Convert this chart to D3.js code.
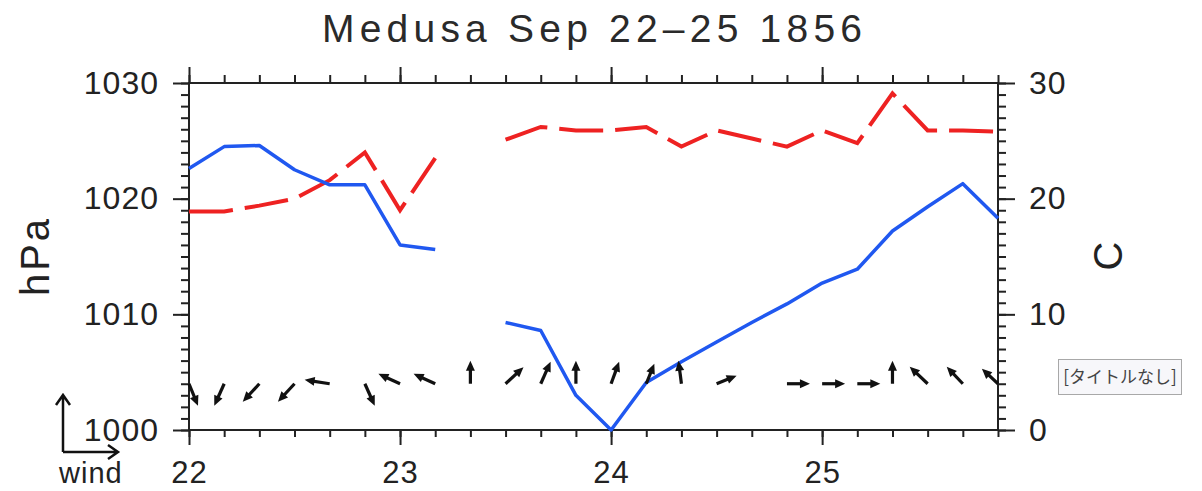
<!DOCTYPE html>
<html>
<head>
<meta charset="utf-8">
<script src="https://cdn.jsdelivr.net/npm/d3@7"></script>
<style>
  body { margin: 0; background: #fff; }
  svg { display: block; font-family: "Liberation Sans", Arial, sans-serif; }
</style>
</head>
<body>
<svg id="chart" width="1202" height="491"></svg>
<script>
// observation times: hours after Sep 22 00h, every 4 hours
const obsHour = [0, 4, 8, 12, 16, 20, 24, 28, 32, 36, 40, 44, 48, 52, 56, 60, 64, 68, 72, 76, 80, 84, 88, 92];
const dayTicks = [22, 23, 24, 25];
const hPaTicks = [1000, 1010, 1020, 1030];
const tempTicks = [0, 10, 20, 30];

// pressure (hPa) - blue solid, left axis
const pressure = [1022.6, 1024.5, 1024.6, 1022.5, 1021.2, 1021.2, 1016.0, 1015.6, null,
  1009.3, 1008.6, 1003.0, 1000.0, 1004.1, 1005.9, 1007.6, 1009.3, 1010.9, 1012.7,
  1013.9, 1017.2, 1019.3, 1021.3, 1018.3];

// air temperature (C) - red dashed, right axis
const temperature = [18.9, 18.9, 19.4, 20.0, 21.6, 24.0, 19.0, 23.5, null,
  25.1, 26.2, 25.9, 25.9, 26.2, 24.5, 25.9, 25.2, 24.5, 25.9,
  24.8, 29.1, 25.9, 25.9, 25.8];

// wind components (u east, v north), null = no report
const windU = [3.9, -4.3, -7.2, -7.2, -10.9, 4.3, -9.4, -9.4, 0, 7.8, 4.3, 0,
  3.5, 3.5, -1.3, 8.7, null, 10, 10, 10, 0, -7.8, -7.0, -7.0];
const windV = [-9.6, -9.6, -7.8, -7.8, 1.7, -9.6, 4.3, 4.3, 10, 7.2, 9.6, 10,
  9.6, 8.7, 10, 3.5, null, 0, 0, 0, 10, 7.4, 7.4, 6.5];

const svg = d3.select("#chart");

const plotLeft = 189, plotRight = 998, plotTop = 83, plotBottom = 430;

const x = d3.scaleLinear().domain([22, 22 + 92 / 24]).range([plotLeft, plotRight]);
const yP = d3.scaleLinear().domain([1000, 1030]).range([plotBottom, plotTop]);
const yT = d3.scaleLinear().domain([0, 30]).range([plotBottom, plotTop]);

const tx = h => x(22 + h / 24);

// title
svg.append("text")
  .attr("x", 592).attr("y", 42)
  .attr("text-anchor", "middle")
  .attr("font-size", 39)
  .attr("textLength", 540)
  .attr("lengthAdjust", "spacing")
  .attr("fill", "#2a2a2a")
  .text("Medusa Sep 22\u201325 1856");

// axes
function styleAxis(g) {
  g.select(".domain").remove();
  g.selectAll("line").attr("stroke", "#222").attr("stroke-width", 2);
  g.selectAll("text")
    .attr("font-size", 32)
    .attr("font-family", "Liberation Sans, Arial, sans-serif")
    .attr("letter-spacing", 1)
    .attr("fill", "#222");
}

const minorX = obsHour.map(h => 22 + h / 24);
const minorY = d3.range(1000, 1031);

svg.append("g").attr("transform", `translate(0,${plotBottom})`)
  .call(d3.axisBottom(x).tickValues(minorX).tickSize(7).tickFormat(""))
  .call(styleAxis);
svg.append("g").attr("transform", `translate(0,${plotBottom})`)
  .call(d3.axisBottom(x).tickValues(dayTicks).tickSize(15).tickPadding(16).tickFormat(d3.format("d")))
  .call(styleAxis)
  .call(g => g.selectAll("text").attr("font-size", 31));
svg.append("g").attr("transform", `translate(0,${plotTop})`)
  .call(d3.axisTop(x).tickValues(minorX).tickSize(8).tickFormat(""))
  .call(styleAxis);
svg.append("g").attr("transform", `translate(0,${plotTop})`)
  .call(d3.axisTop(x).tickValues(dayTicks).tickSize(16).tickFormat(""))
  .call(styleAxis);

svg.append("g").attr("transform", `translate(${plotLeft},0)`)
  .call(d3.axisLeft(yP).tickValues(minorY).tickSize(8).tickFormat(""))
  .call(styleAxis);
svg.append("g").attr("transform", `translate(${plotLeft},0)`)
  .call(d3.axisLeft(yP).tickValues(hPaTicks).tickSize(16).tickPadding(14).tickFormat(d3.format("d")))
  .call(styleAxis);
svg.append("g").attr("transform", `translate(${plotRight},0)`)
  .call(d3.axisRight(yT).tickValues(d3.range(0, 31)).tickSize(8).tickFormat(""))
  .call(styleAxis);
svg.append("g").attr("transform", `translate(${plotRight},0)`)
  .call(d3.axisRight(yT).tickValues(tempTicks).tickSize(17).tickPadding(14).tickFormat(d3.format("d")))
  .call(styleAxis);

// frame
svg.append("rect")
  .attr("x", plotLeft).attr("y", plotTop)
  .attr("width", plotRight - plotLeft).attr("height", plotBottom - plotTop)
  .attr("fill", "none").attr("stroke", "#222").attr("stroke-width", 2);

// axis titles
svg.append("text")
  .attr("transform", "translate(49,256) rotate(-90)")
  .attr("text-anchor", "middle")
  .attr("font-size", 40).attr("letter-spacing", 3)
  .attr("fill", "#222")
  .text("hPa");
svg.append("text")
  .attr("transform", "translate(1122,256) rotate(-90)")
  .attr("text-anchor", "middle")
  .attr("font-size", 40)
  .attr("fill", "#222")
  .text("C");

// temperature line
const tempLine = d3.line()
  .defined(d => d.v != null)
  .x(d => tx(d.h)).y(d => yT(d.v));
svg.append("path")
  .datum(obsHour.map((h, i) => ({ h, v: temperature[i] })))
  .attr("d", tempLine)
  .attr("fill", "none")
  .attr("stroke", "#ee2222")
  .attr("stroke-width", 4)
  .attr("stroke-dasharray", "44,12");

// pressure line
const presLine = d3.line()
  .defined(d => d.v != null)
  .x(d => tx(d.h)).y(d => yP(d.v));
svg.append("path")
  .datum(obsHour.map((h, i) => ({ h, v: pressure[i] })))
  .attr("d", presLine)
  .attr("fill", "none")
  .attr("stroke", "#2058f0")
  .attr("stroke-width", 3.5)
  .attr("stroke-linejoin", "round");

// wind arrows, tails on the 1004 hPa level
const windScale = 2.3; // px per m/s
const windY = yP(1004);
const winds = obsHour.map((h, i) => ({ h, u: windU[i], v: windV[i] }))
  .filter(d => d.u != null);

const arrows = svg.append("g");
winds.forEach(d => {
  const x0 = tx(d.h), y0 = windY;
  const x1 = x0 + d.u * windScale, y1 = y0 - d.v * windScale;
  const a = Math.atan2(y1 - y0, x1 - x0);
  const hl = 10, hw = 4.5;
  arrows.append("line")
    .attr("x1", x0).attr("y1", y0)
    .attr("x2", x1 - Math.cos(a) * 5).attr("y2", y1 - Math.sin(a) * 5)
    .attr("stroke", "#111").attr("stroke-width", 3.2);
  const bx = x1 - Math.cos(a) * hl, by = y1 - Math.sin(a) * hl;
  arrows.append("path")
    .attr("d", `M${x1},${y1}L${bx - Math.sin(a) * hw},${by + Math.cos(a) * hw}L${bx + Math.sin(a) * hw},${by - Math.cos(a) * hw}Z`)
    .attr("fill", "#111");
});

// wind legend in the corner
const leg = svg.append("g").attr("stroke", "#111").attr("stroke-width", 2.5).attr("fill", "none");
leg.append("path").attr("d", "M63,452L63,396M56,405L63,395L70,405");
leg.append("path").attr("d", "M63,452L118,452M108,445L118,452L108,459");
svg.append("text")
  .attr("x", 59).attr("y", 483)
  .attr("font-size", 29).attr("letter-spacing", 1)
  .attr("fill", "#222")
  .text("wind");

// stray tooltip box from the source screenshot
svg.append("rect")
  .attr("x", 1058.5).attr("y", 359.5)
  .attr("width", 123).attr("height", 35)
  .attr("fill", "#f7f7fa").attr("stroke", "#a8a8a8").attr("stroke-width", 1);
svg.append("text")
  .attr("x", 1120).attr("y", 383)
  .attr("text-anchor", "middle")
  .attr("font-family", "Noto Sans CJK JP, sans-serif")
  .attr("font-size", 17)
  .attr("fill", "#444")
  .text("[タイトルなし]");
</script>
</body>
</html>
